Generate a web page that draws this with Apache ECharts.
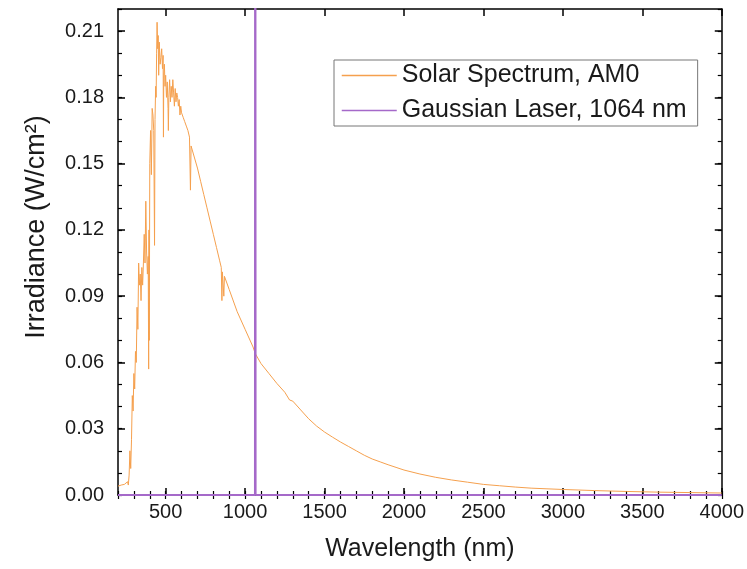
<!DOCTYPE html>
<html><head><meta charset="utf-8">
<script src="https://cdn.jsdelivr.net/npm/echarts@6/dist/echarts.min.js"></script>
<style>html,body{margin:0;padding:0;background:#fff}#c{width:747px;height:569px}</style>
</head><body><div id="c"></div>
<script>
const solarWavelength = [200,210,220,230,240,250,260,265,270,275,280,285,290,295,300,305,310,315,320,325,330,335,340,345,350,355,360,365,370,375,380,385,390,393,395,397,400,405,410,415,420,425,430,433,437,440,443,446,450,453,456,460,465,470,475,480,484,486,488,492,496,500,505,510,515,517,520,525,530,535,540,545,550,555,560,565,570,575,580,585,590,595,600,610,620,630,640,650,656,660,680,700,720,740,760,780,800,820,840,850,854,857,866,870,900,950,1000,1050,1064,1100,1150,1200,1250,1280,1300,1350,1400,1450,1500,1550,1600,1650,1700,1750,1800,1850,1900,1950,2000,2100,2200,2300,2400,2500,2600,2700,2800,2900,3000,3200,3400,3600,3800,4000];
const solarIrradiance = [0.0040,0.0035,0.0045,0.0040,0.0048,0.0045,0.0060,0.0045,0.0090,0.0200,0.0120,0.0250,0.0450,0.0380,0.0550,0.0480,0.0650,0.0600,0.0850,0.0750,0.1050,0.0950,0.1000,0.0880,0.1030,0.0950,0.1050,0.1180,0.1050,0.1330,0.1100,0.1000,0.1080,0.0570,0.1200,0.0700,0.1500,0.1650,0.1450,0.1750,0.1720,0.1650,0.1130,0.1700,0.1850,0.1800,0.2000,0.2140,0.2020,0.2080,0.1900,0.2050,0.1950,0.1980,0.2020,0.1930,0.1990,0.1620,0.1900,0.1950,0.1850,0.1900,0.1800,0.1870,0.1750,0.1650,0.1800,0.1880,0.1780,0.1850,0.1800,0.1880,0.1820,0.1760,0.1840,0.1780,0.1820,0.1800,0.1760,0.1790,0.1720,0.1760,0.1730,0.1710,0.1690,0.1670,0.1650,0.1620,0.1380,0.1580,0.1530,0.1480,0.1420,0.1360,0.1300,0.1240,0.1180,0.1120,0.1060,0.1030,0.0880,0.1010,0.0900,0.0990,0.0930,0.0830,0.0750,0.0670,0.0640,0.0595,0.0550,0.0505,0.0465,0.0430,0.0425,0.0385,0.0345,0.0312,0.0285,0.0262,0.0240,0.0220,0.0200,0.0180,0.0163,0.0150,0.0137,0.0125,0.0113,0.0095,0.0080,0.0068,0.0058,0.0048,0.0042,0.0036,0.0031,0.0028,0.0025,0.0020,0.0016,0.0013,0.0011,0.0009];
const laserWavelength = [200,1062,1064,1066,4000];
const laserIrradiance = [0,0,0.5,0,0];
const xMajorTicks = [500,1000,1500,2000,2500,3000,3500,4000];
const yMajorTicks = [0,0.03,0.06,0.09,0.12,0.15,0.18,0.21];
const seriesNames = ['Solar Spectrum, AM0','Gaussian Laser, 1064 nm'];

const FONT = 'Liberation Sans, Arial, sans-serif';
const chart = echarts.init(document.getElementById('c'));
const xBase = {type:'value', min:200, max:4000, splitLine:{show:false}};
const yBase = {type:'value', min:0, max:0.22, splitLine:{show:false}};
const lineBlack = {show:true, onZero:false, lineStyle:{color:'#000', width:1.5}};
function majorX(pos, showLabel, extra){
  return Object.assign({}, xBase, {position:pos, axisLine:lineBlack,
    axisTick:{show:true, inside:true, length:7, customValues:xMajorTicks, lineStyle:{color:'#000', width:1.5}},
    axisLabel:{show:showLabel, customValues:xMajorTicks, fontSize:20, color:'#1a1a1a', fontFamily:FONT, margin:7,
      formatter:v=>String(v)}}, extra||{});
}
function minorX(pos){
  return Object.assign({}, xBase, {position:pos, interval:100, axisLine:{show:false},
    axisTick:{show:true, inside:true, length:4, lineStyle:{color:'#000', width:1.2}}, axisLabel:{show:false}});
}
function majorY(pos, showLabel, extra){
  return Object.assign({}, yBase, {position:pos, axisLine:lineBlack,
    axisTick:{show:true, inside:true, length:7, customValues:yMajorTicks, lineStyle:{color:'#000', width:1.5}},
    axisLabel:{show:showLabel, customValues:yMajorTicks, fontSize:20, color:'#1a1a1a', fontFamily:FONT, margin:14,
      formatter:v=>v.toFixed(2)}}, extra||{});
}
function minorY(pos){
  return Object.assign({}, yBase, {position:pos, interval:0.01, axisLine:{show:false},
    axisTick:{show:true, inside:true, length:4, lineStyle:{color:'#000', width:1.2}}, axisLabel:{show:false}});
}
chart.setOption({
  animation:false,
  backgroundColor:'#fff',
  grid:{left:118, right:25, top:9, bottom:74, containLabel:false},
  legend:{
    orient:'vertical', left:334, top:60,
    data:seriesNames,
    padding:[3,11,3,7], itemGap:10, itemWidth:55, itemHeight:25,
    itemStyle:{opacity:0},
    lineStyle:{width:1.5},
    borderColor:'#777', borderWidth:1, backgroundColor:'#fff',
    textStyle:{fontSize:25, color:'#1a1a1a', fontFamily:FONT}
  },
  xAxis:[
    majorX('bottom', true, {name:'Wavelength (nm)', nameLocation:'middle', nameGap:42,
      nameTextStyle:{fontSize:25, color:'#1a1a1a', fontFamily:FONT}}),
    minorX('bottom'),
    majorX('top', false),
    minorX('top')
  ],
  yAxis:[
    majorY('left', true, {name:'Irradiance (W/cm\u00B2)', nameLocation:'middle', nameGap:68,
      nameTextStyle:{fontSize:27, color:'#1a1a1a', fontFamily:FONT, padding:[0,0,0,50]}}),
    minorY('left'),
    majorY('right', false),
    minorY('right')
  ],
  series:[
    {name:seriesNames[0], type:'line', xAxisIndex:0, yAxisIndex:0, symbol:'none', clip:true,
      lineStyle:{color:'#f5a04e', width:1}, itemStyle:{color:'#f5a04e'},
      data:solarWavelength.map((w,i)=>[w, solarIrradiance[i]])},
    {name:seriesNames[1], type:'line', xAxisIndex:0, yAxisIndex:0, symbol:'none', clip:true, z:3,
      lineStyle:{color:'#a569c9', width:2}, itemStyle:{color:'#a569c9'},
      data:laserWavelength.map((w,i)=>[w, laserIrradiance[i]])}
  ]
});
</script></body></html>
